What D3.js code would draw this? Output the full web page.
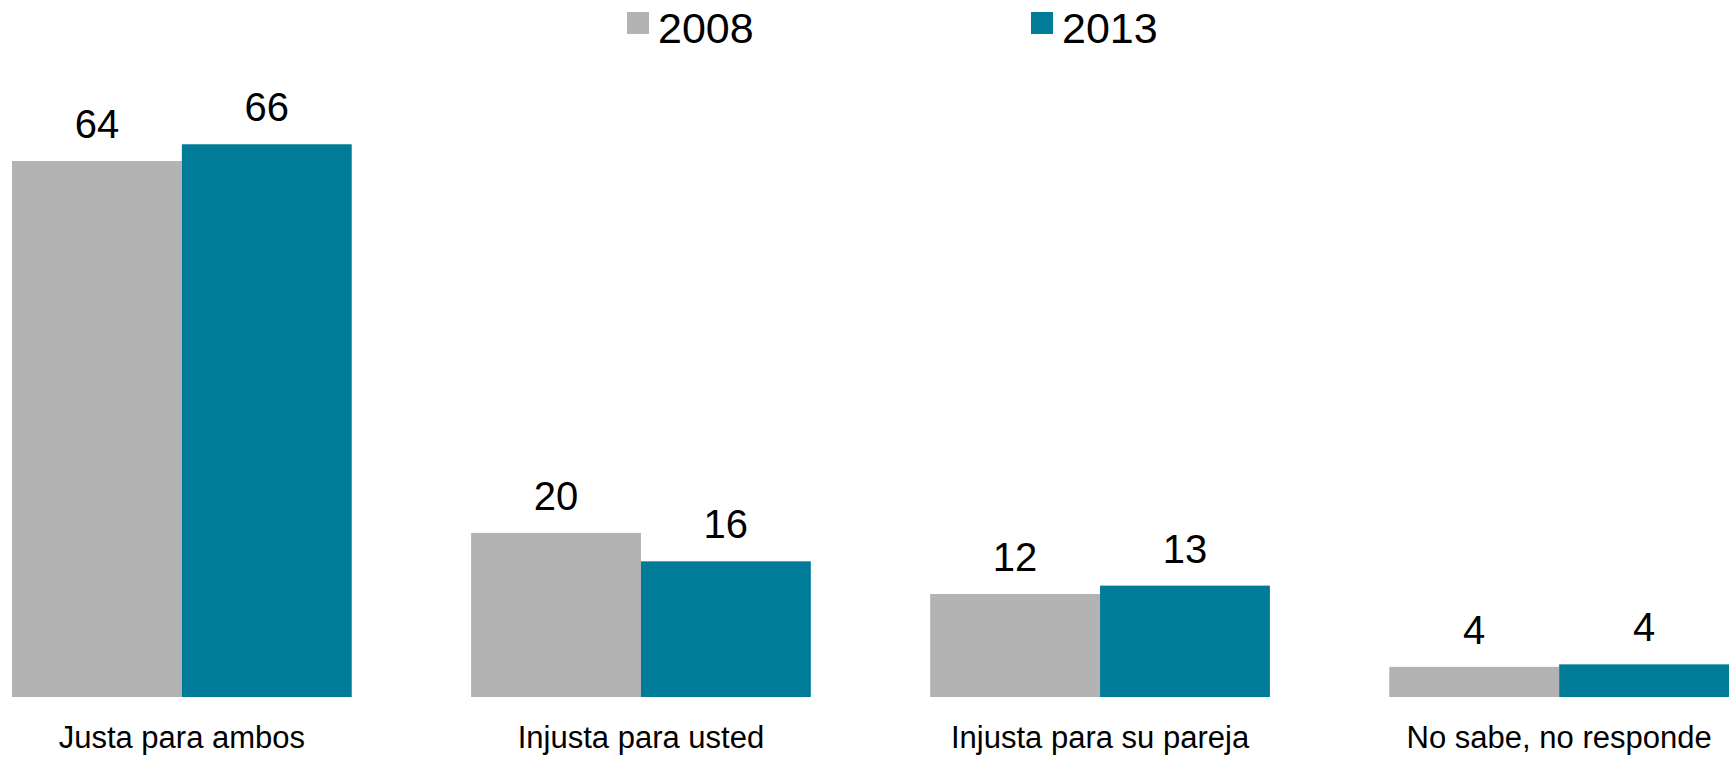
<!DOCTYPE html>
<html>
<head>
<meta charset="utf-8">
<script src="https://cdn.jsdelivr.net/npm/d3@7"></script>
<style>
  body { margin: 0; background: #fff; }
  svg { display: block; font-family: "Liberation Sans", Arial, sans-serif; }
</style>
</head>
<body>
<svg id="chart"></svg>
<script>
// data (bar heights, labels shown rounded)
var categories = ["Justa para ambos", "Injusta para usted", "Injusta para su pareja", "No sabe, no responde"]
var years = ["2008", "2013"]
var values2008 = [64, 19.6, 12.3, 3.6]
var values2013 = [66, 16.2, 13.3, 3.9]
var colors = ["#b3b3b3", "#007c99"]

var screen = {width: 1729, height: 758}
var margins = {top: 27, right: 0, bottom: 61, left: 12}

var svg = d3.select("#chart")
  .attr("width", screen.width)
  .attr("height", screen.height)

var baseline = screen.height - margins.bottom

var x0 = d3.scaleBand()
  .domain(categories)
  .range([margins.left, screen.width - margins.right])
  .paddingInner(0.26)
  .paddingOuter(0)

var x1 = d3.scaleBand()
  .domain(years)
  .range([0, x0.bandwidth()])

var y = d3.scaleLinear()
  .domain([0, 80])
  .range([baseline, margins.top])

var color = d3.scaleOrdinal().domain(years).range(colors)

var rows = categories.map(function(c, i) {
  return {cat: c, vals: [{year: "2008", v: values2008[i]}, {year: "2013", v: values2013[i]}]}
})

var groups = svg.selectAll(".grp").data(rows).enter()
  .append("g")
  .attr("class", "grp")
  .attr("transform", function(d) { return "translate(" + x0(d.cat) + ",0)" })

groups.selectAll("rect").data(function(d) { return d.vals }).enter()
  .append("rect")
  .attr("x", function(d) { return x1(d.year) })
  .attr("width", x1.bandwidth())
  .attr("y", function(d) { return y(d.v) })
  .attr("height", function(d) { return baseline - y(d.v) })
  .style("fill", function(d) { return color(d.year) })

// value labels
groups.selectAll(".val").data(function(d) { return d.vals }).enter()
  .append("text")
  .attr("class", "val")
  .attr("x", function(d) { return x1(d.year) + x1.bandwidth() / 2 })
  .attr("y", function(d) { return y(d.v) - 23 })
  .attr("text-anchor", "middle")
  .style("font-size", "40px")
  .style("fill", "#000")
  .text(function(d) { return Math.round(d.v) })

// category axis, no line or ticks
var xAxis = svg.append("g")
  .attr("transform", "translate(0," + baseline + ")")
  .call(d3.axisBottom(x0).tickSize(0).tickPadding(0))
xAxis.select(".domain").remove()
xAxis.selectAll("text")
  .attr("dy", null)
  .attr("y", 51)
  .style("font-size", "31px")
  .style("font-family", "Liberation Sans, Arial, sans-serif")
  .style("fill", "#000")

// legend
var legendX = [627, 1031]
var legend = svg.selectAll(".leg").data(years).enter()
  .append("g")
  .attr("class", "leg")
  .attr("transform", function(d, i) { return "translate(" + legendX[i] + ",12)" })
legend.append("rect")
  .attr("width", 22).attr("height", 22)
  .style("fill", function(d) { return color(d) })
legend.append("text")
  .attr("x", 31).attr("y", 31)
  .style("font-size", "43px")
  .style("fill", "#000")
  .text(function(d) { return d })
</script>
</body>
</html>
